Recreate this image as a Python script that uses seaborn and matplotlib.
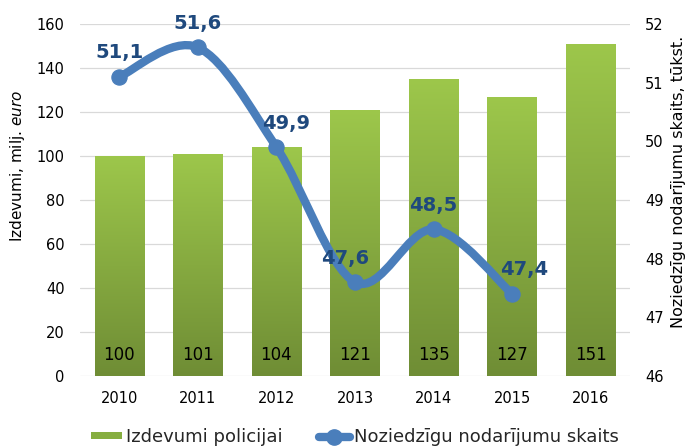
import matplotlib
matplotlib.use("Agg")
import matplotlib.pyplot as plt
import seaborn as sns
import numpy as np
import pandas as pd
from matplotlib.path import Path
from matplotlib.patches import PathPatch, Patch
from matplotlib.lines import Line2D
from matplotlib.colors import LinearSegmentedColormap

# data
years = ["2010", "2011", "2012", "2013", "2014", "2015", "2016"]
spending = [100, 101, 104, 121, 135, 127, 151]
crimes = [51.1, 51.6, 49.9, 47.6, 48.5, 47.4]

GREEN_TOP = "#9DC74B"
GREEN_BOTTOM = "#6F8D35"
BLUE = "#4A7EBB"
LABEL_BLUE = "#1F497D"
GRID = "#D9D9D9"

sns.set_theme(style="white")
plt.rcParams["font.family"] = ["DejaVu Sans"]
plt.rcParams["mathtext.fontset"] = "dejavusans"

fig = plt.figure(figsize=(6.86, 4.48), dpi=100)
ax = fig.add_axes([80 / 686, 1 - 376 / 448, 550 / 686, 352 / 448])

df = pd.DataFrame({"year": years, "spending": spending})
sns.barplot(data=df, x="year", y="spending", color=GREEN_TOP, width=0.63,
            ax=ax, zorder=2, saturation=1)

# vertical gradient fill on each bar
cmap = LinearSegmentedColormap.from_list("bar", [GREEN_BOTTOM, GREEN_TOP])
grad = np.linspace(0, 1, 256).reshape(-1, 1)
for bar in ax.patches:
    x0, w, h = bar.get_x(), bar.get_width(), bar.get_height()
    bar.set_edgecolor("none")
    img = ax.imshow(grad, cmap=cmap, origin="lower", aspect="auto",
                    extent=(x0, x0 + w, 0, h), zorder=2.1)
    img.set_clip_path(bar)

ax.set_xlim(-0.5, len(years) - 0.5)
ax.set_ylim(0, 160)
ax.set_yticks(range(0, 161, 20))
ax.yaxis.grid(True, color=GRID, lw=0.9)
ax.xaxis.grid(False)
ax.set_axisbelow(True)
for s in ax.spines.values():
    s.set_visible(False)
ax.set_xlabel("")
ax.set_ylabel("")
ax.tick_params(axis="y", length=0, pad=11, labelsize=10.5, labelcolor="black")
ax.tick_params(axis="x", length=0, pad=11, labelsize=10.5, labelcolor="black")

# bar value labels near the bottom
for i, v in enumerate(spending):
    ax.annotate(str(v), (i, 0), xytext=(0, 21), textcoords="offset pixels",
                ha="center", va="center", fontsize=12, color="black", zorder=5)

# secondary axis: smoothed line
ax2 = ax.twinx()
ax2.set_ylim(46, 52)
ax2.set_yticks(range(46, 53))
for s in ax2.spines.values():
    s.set_visible(False)
ax2.tick_params(axis="y", length=0, pad=11, labelsize=10.5, labelcolor="black")
ax2.grid(False)

xs = np.arange(len(crimes))
pts = np.column_stack([xs, crimes]).astype(float)
n = len(pts)
verts = [pts[0]]
codes = [Path.MOVETO]
for i in range(n - 1):
    p_prev = pts[max(i - 1, 0)]
    p0, p1 = pts[i], pts[i + 1]
    p_next = pts[min(i + 2, n - 1)]
    c1 = p0 + (p1 - p_prev) / 6
    c2 = p1 - (p_next - p0) / 6
    verts += [c1, c2, p1]
    codes += [Path.CURVE4] * 3
ax2.add_patch(PathPatch(Path(verts, codes), fill=False, edgecolor=BLUE,
                        lw=6, capstyle="round", joinstyle="round", zorder=3))
sns.scatterplot(x=xs, y=crimes, ax=ax2, s=120, color=BLUE, edgecolor=BLUE,
                zorder=4, legend=False)

label_dx = [0, 0, 10, -10, 0, 12]
for i, v in enumerate(crimes):
    ax2.annotate(f"{v:.1f}".replace(".", ","), (xs[i], v),
                 xytext=(label_dx[i], 24), textcoords="offset pixels",
                 ha="center", va="center", fontsize=14, fontweight="bold",
                 color=LABEL_BLUE, zorder=6)
ax2.set_xlim(-0.5, len(years) - 0.5)

# axis titles
fig.text(18 / 686, 1 - 166 / 448, "Izdevumi, milj. $\\it{euro}$", rotation=90,
         ha="center", va="center", fontsize=11, color="black")
fig.text(679 / 686, 1 - 182 / 448, "Noziedzīgu nodarījumu skaits, tūkst.",
         rotation=90, ha="center", va="center", fontsize=11.5, color="black")

handles = [
    Patch(facecolor="#86AE40", edgecolor="none"),
    Line2D([0], [0], color=BLUE, lw=6, marker="o", markersize=11,
           markerfacecolor=BLUE, markeredgecolor=BLUE),
]
fig.legend(handles, ["Izdevumi policijai", "Noziedzīgu nodarījumu skaits"],
           loc="center", bbox_to_anchor=(0.517, 1 - 437 / 448), ncol=2,
           frameon=False, fontsize=13, handlelength=1.75, handleheight=0.3,
           columnspacing=2.0, handletextpad=0.2, borderaxespad=0)

fig.savefig("out.png", dpi=100)
